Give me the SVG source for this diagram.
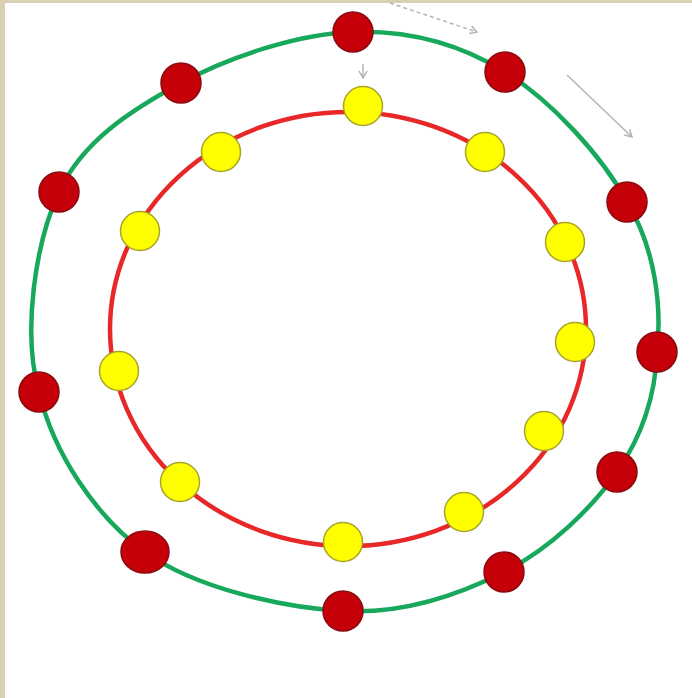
<svg xmlns="http://www.w3.org/2000/svg" width="692" height="698" viewBox="0 0 692 698">
<defs>
<marker id="ah" markerWidth="10" markerHeight="10" refX="8" refY="5" orient="auto" markerUnits="userSpaceOnUse">
<path d="M1,1 L8,5 L1,9" fill="none" stroke="#b4b4b4" stroke-width="1.5"/>
</marker>
</defs>
<style>
.ring-g{fill:none;stroke:#17a85c;stroke-width:4.5}
.ring-r{fill:none;stroke:#e82828;stroke-width:4.5}
.rn{fill:#c60008;stroke:#8a0a10;stroke-width:1.5}
.yn{fill:#ffff00;stroke:#a8a428;stroke-width:1.5}
.arr{fill:none;stroke:#b4b4b4;stroke-width:1.5;marker-end:url(#ah)}
</style>
<rect x="0" y="0" width="692" height="698" fill="#d9cfb2"/>
<rect x="5" y="3" width="687" height="695" fill="#ffffff"/>
<g id="rings">
<path class="ring-g" d="M353,32 C407,30.2 459.3,43.7 505,72 C550.7,100.3 601.7,155.3 627,202 C655,248 662,305 657,352 C655.3,397 642.5,435.3 617,472 C591.5,508.7 549.7,548.8 504,572 C458.3,595.2 402.8,614.3 343,611 C283.2,607.7 195.7,588.5 145,552 C94.3,515.5 53.3,452 39,392 C22,332 35.3,243.5 59,192 C82.7,140.5 132,109.7 181,83 C230,56.3 299,33.8 353,32 Z"/>
<ellipse class="ring-r" cx="348" cy="329" rx="238" ry="217"/>
</g>
<g id="connectors">
<path class="arr" d="M390 3 L477 32" stroke-dasharray="4 3"/>
<path class="arr" d="M567 75 L632 137"/>
<path class="arr" d="M363 64 L363 78"/>
</g>
<g id="outer-nodes">
<g id="r1"><circle class="rn" cx="353" cy="32" r="20"/></g>
<g id="r2"><circle class="rn" cx="505" cy="72" r="20"/></g>
<g id="r3"><circle class="rn" cx="627" cy="202" r="20"/></g>
<g id="r4"><circle class="rn" cx="657" cy="352" r="20"/></g>
<g id="r5"><circle class="rn" cx="617" cy="472" r="20"/></g>
<g id="r6"><circle class="rn" cx="504" cy="572" r="20"/></g>
<g id="r7"><circle class="rn" cx="343" cy="611" r="20"/></g>
<g id="r8"><ellipse class="rn" cx="145" cy="552" rx="24" ry="21"/></g>
<g id="r9"><circle class="rn" cx="39" cy="392" r="20"/></g>
<g id="r10"><circle class="rn" cx="59" cy="192" r="20"/></g>
<g id="r11"><circle class="rn" cx="181" cy="83" r="20"/></g>
</g>
<g id="inner-nodes">
<g id="y1"><circle class="yn" cx="363" cy="106" r="19.5"/></g>
<g id="y2"><circle class="yn" cx="485" cy="152" r="19.5"/></g>
<g id="y3"><circle class="yn" cx="565" cy="242" r="19.5"/></g>
<g id="y4"><circle class="yn" cx="575" cy="342" r="19.5"/></g>
<g id="y5"><circle class="yn" cx="544" cy="431" r="19.5"/></g>
<g id="y6"><circle class="yn" cx="464" cy="512" r="19.5"/></g>
<g id="y7"><circle class="yn" cx="343" cy="542" r="19.5"/></g>
<g id="y8"><circle class="yn" cx="180" cy="482" r="19.5"/></g>
<g id="y9"><circle class="yn" cx="119" cy="371" r="19.5"/></g>
<g id="y10"><circle class="yn" cx="140" cy="231" r="19.5"/></g>
<g id="y11"><circle class="yn" cx="221" cy="152" r="19.5"/></g>
</g>
</svg>
